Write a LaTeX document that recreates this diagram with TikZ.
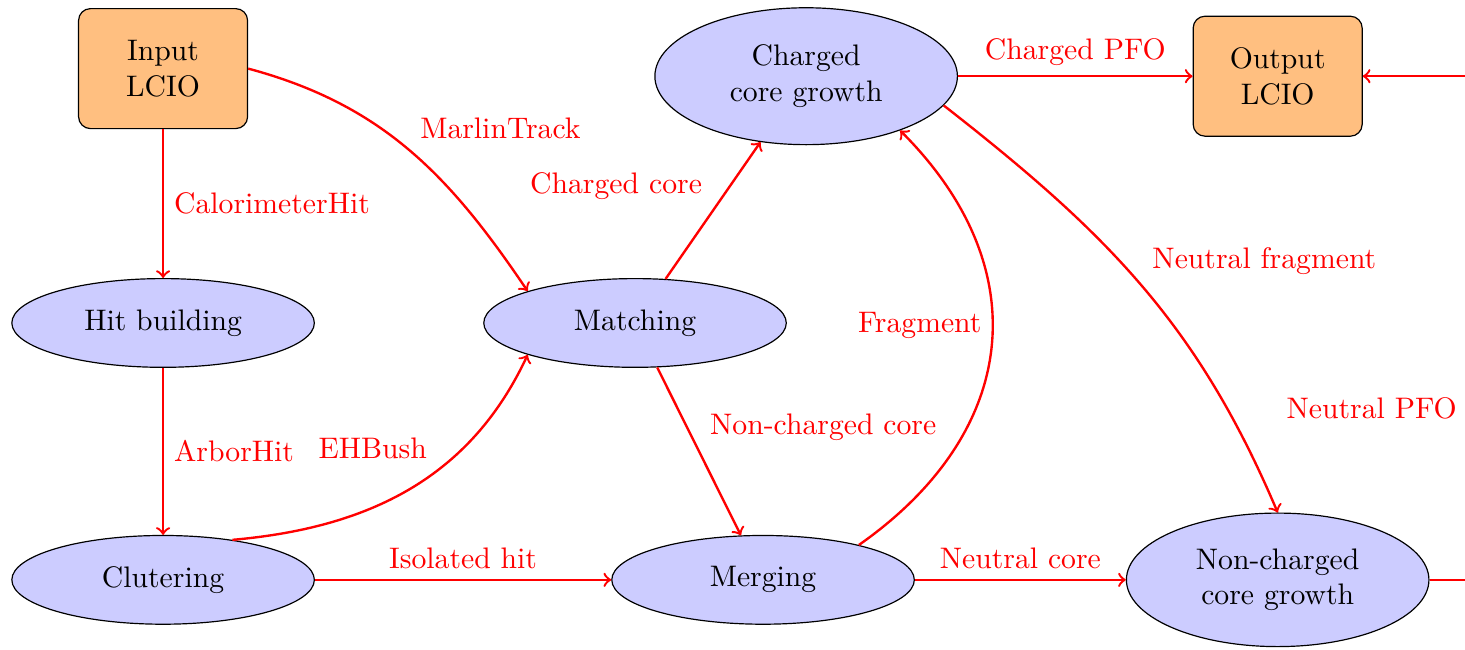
\documentclass[tikz,border=0pt]{standalone}
\usetikzlibrary{shapes.geometric}
\begin{document}
\begin{tikzpicture}[
  io/.style={draw, rounded corners, fill=orange!50, align=center, minimum width=2cm, minimum height=1.42cm},
  proc/.style={draw, ellipse, fill=blue!20, align=center, minimum width=3.58cm, minimum height=1.05cm},
  flow/.style={->, red, thick},
  lab/.style={red}
]
\useasboundingbox (0,0) rectangle (17.337,7.692);
\clip (0,0) rectangle (17.337,7.692);

%input and output
\node[io] (input) at (1.93,6.88) {Input\\LCIO};
\node[io] (output) at (15.12,6.79) {Output\\LCIO};

%processors
\node[proc] (hit) at (1.93,3.87) {Hit building};
\node[proc] (clu) at (1.93,0.83) {Clutering};
\node[proc] (match) at (7.515,3.87) {Matching};
\node[proc] (merge) at (9.03,0.83) {Merging};
\node[proc, minimum height=1.62cm] (ccg) at (9.54,6.79) {Charged\\core growth};
\node[proc, minimum height=1.58cm] (ncg) at (15.12,0.83) {Non-charged\\core growth};

\coordinate (rt) at (17.37,0); %outside the frame

%straight flows
\draw[flow] (input) -- node[lab,right] {CalorimeterHit} (hit);
\draw[flow] (hit) -- node[lab,right] {ArborHit} (clu);
\draw[flow] (clu) -- node[lab,above] {Isolated hit} (merge);
\draw[flow] (merge) -- node[lab,above] {Neutral core} (ncg);
\draw[flow] (match) -- node[lab,above left] {Charged core} (ccg);
\draw[flow] (match) -- node[lab,above right] {Non-charged core} (merge);
\draw[flow] (ccg) -- node[lab,above] {Charged PFO} (output);

%curved flows
\draw[flow] (input.east) to[out=-15,in=124] node[lab,above right] {MarlinTrack} (match.north west);
\draw[flow] (clu.30) to[out=5,in=-115] node[lab,pos=0.6,above left] {EHBush} (match.south west);
\draw[flow] (merge.20) to[out=35,in=-45,looseness=1.2] node[lab,pos=0.55,left] {Fragment} (ccg.-30);
\draw[flow] (ccg.-12) to[out=-38,in=113] node[lab,above right] {Neutral fragment} (ncg.north);
\draw[flow] (ncg.east) -- (ncg.east -| rt) |- node[lab,pos=0.17,left] {Neutral PFO} (output.east);
\end{tikzpicture}
\end{document}
